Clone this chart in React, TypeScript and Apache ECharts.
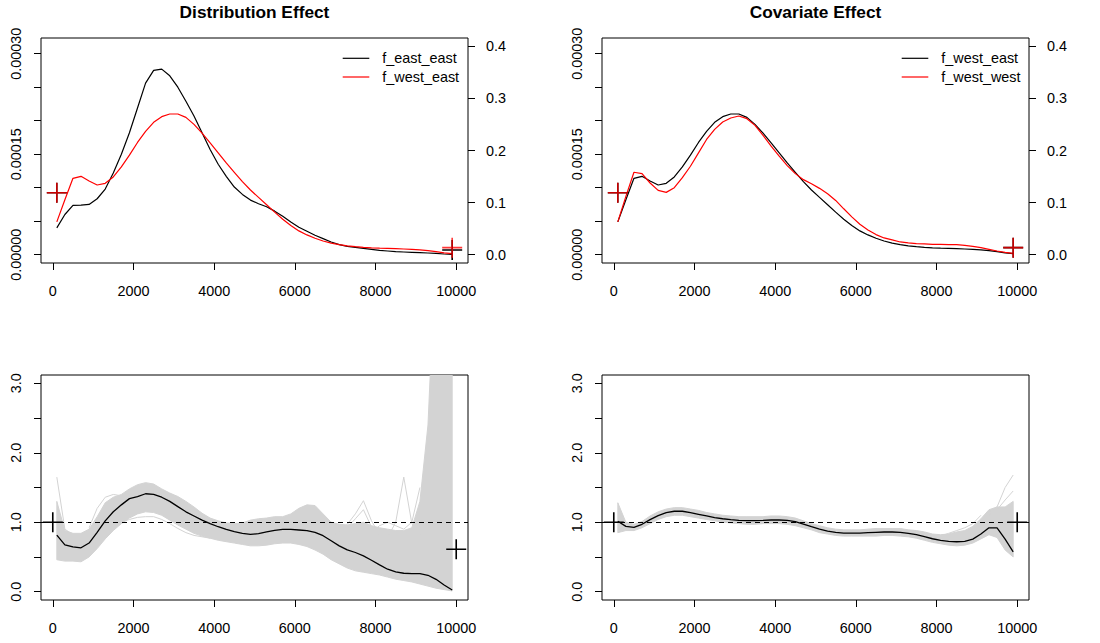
import React, { useEffect, useRef } from "react";
import * as echarts from "echarts";

// ---------- data ----------
const xs = [100, 300, 500, 700, 900, 1100, 1300, 1500, 1700, 1900, 2100, 2300, 2500, 2700, 2900, 3100, 3300, 3500, 3700, 3900, 4100, 4300, 4500, 4700, 4900, 5100, 5300, 5500, 5700, 5900, 6100, 6300, 6500, 6700, 6900, 7100, 7300, 7500, 7700, 7900, 8100, 8300, 8500, 8700, 8900, 9100, 9300, 9500, 9700, 9900];

const fEastEast = [4.0e-5, 6.0e-5, 7.35e-5, 7.4e-5, 7.5e-5, 8.35e-5, 9.8e-5, 12.2e-5, 15.0e-5, 18.2e-5, 21.9e-5, 25.6e-5, 27.5e-5, 27.7e-5, 26.7e-5, 25.0e-5, 22.9e-5, 20.7e-5, 18.2e-5, 15.7e-5, 13.5e-5, 11.7e-5, 10.1e-5, 9.0e-5, 8.15e-5, 7.6e-5, 7.15e-5, 6.5e-5, 5.75e-5, 4.87e-5, 4.1e-5, 3.5e-5, 2.9e-5, 2.4e-5, 1.9e-5, 1.5e-5, 1.25e-5, 1.1e-5, 0.95e-5, 0.8e-5, 0.65e-5, 0.55e-5, 0.45e-5, 0.4e-5, 0.35e-5, 0.3e-5, 0.25e-5, 0.2e-5, 0.1e-5, 0.05e-5];
const fWestEast = [4.9e-5, 8.2e-5, 11.4e-5, 11.7e-5, 11.0e-5, 10.4e-5, 10.65e-5, 11.6e-5, 13.1e-5, 14.85e-5, 16.75e-5, 18.4e-5, 19.75e-5, 20.6e-5, 21.0e-5, 21.0e-5, 20.5e-5, 19.45e-5, 18.15e-5, 16.7e-5, 15.2e-5, 13.7e-5, 12.3e-5, 10.9e-5, 9.65e-5, 8.55e-5, 7.45e-5, 6.35e-5, 5.3e-5, 4.35e-5, 3.55e-5, 2.95e-5, 2.45e-5, 2.05e-5, 1.72e-5, 1.5e-5, 1.32e-5, 1.2e-5, 1.1e-5, 1.02e-5, 0.97e-5, 0.95e-5, 0.9e-5, 0.85e-5, 0.8e-5, 0.72e-5, 0.62e-5, 0.47e-5, 0.27e-5, 0.15e-5];
const fWestWest = [4.9e-5, 8.7e-5, 12.3e-5, 12.1e-5, 10.7e-5, 9.6e-5, 9.3e-5, 10.0e-5, 11.5e-5, 13.2e-5, 15.2e-5, 17.2e-5, 18.7e-5, 19.8e-5, 20.4e-5, 20.7e-5, 20.3e-5, 19.3e-5, 17.8e-5, 16.2e-5, 14.7e-5, 13.3e-5, 12.1e-5, 11.2e-5, 10.6e-5, 9.9e-5, 9.1e-5, 8.1e-5, 6.85e-5, 5.65e-5, 4.55e-5, 3.7e-5, 3.0e-5, 2.5e-5, 2.2e-5, 1.9e-5, 1.75e-5, 1.65e-5, 1.6e-5, 1.55e-5, 1.55e-5, 1.5e-5, 1.5e-5, 1.4e-5, 1.25e-5, 1.05e-5, 0.8e-5, 0.55e-5, 0.35e-5, 0.2e-5];

// point masses (right axis)
const massX = [100, 9900];
const massEastEast = [0.119, 0.009];
const massWestEast = [0.119, 0.0135];
const massWestWest = [0.119, 0.0135];

// ratio curves
const ratioDist = [0.815, 0.675, 0.646, 0.632, 0.70, 0.854, 1.02, 1.15, 1.25, 1.34, 1.37, 1.41, 1.40, 1.36, 1.30, 1.225, 1.15, 1.09, 1.03, 0.98, 0.935, 0.897, 0.863, 0.84, 0.825, 0.835, 0.86, 0.883, 0.897, 0.897, 0.888, 0.878, 0.854, 0.806, 0.733, 0.66, 0.603, 0.564, 0.516, 0.453, 0.386, 0.323, 0.285, 0.265, 0.26, 0.26, 0.236, 0.178, 0.096, 0.024];
const ratioCov = [1.013, 0.94, 0.926, 0.97, 1.037, 1.095, 1.138, 1.158, 1.158, 1.138, 1.114, 1.09, 1.066, 1.05, 1.037, 1.027, 1.023, 1.023, 1.027, 1.032, 1.032, 1.027, 1.008, 0.974, 0.936, 0.902, 0.873, 0.854, 0.844, 0.844, 0.844, 0.849, 0.854, 0.859, 0.859, 0.854, 0.839, 0.82, 0.791, 0.762, 0.738, 0.724, 0.719, 0.724, 0.757, 0.83, 0.92, 0.92, 0.757, 0.574];

// bootstrap band (dense core of grey replicate curves)
const lowerDist = [0.46, 0.44, 0.44, 0.43, 0.50, 0.62, 0.76, 0.88, 0.98, 1.06, 1.12, 1.15, 1.14, 1.10, 1.03, 0.96, 0.90, 0.84, 0.80, 0.77, 0.74, 0.72, 0.70, 0.68, 0.66, 0.66, 0.67, 0.69, 0.70, 0.70, 0.68, 0.65, 0.60, 0.54, 0.46, 0.40, 0.34, 0.30, 0.28, 0.26, 0.24, 0.21, 0.18, 0.16, 0.14, 0.11, 0.08, 0.05, 0.03, 0.01];
const upperDist = [1.30, 0.88, 0.84, 0.84, 0.90, 1.08, 1.28, 1.36, 1.40, 1.48, 1.54, 1.57, 1.55, 1.48, 1.42, 1.37, 1.30, 1.22, 1.13, 1.06, 1.02, 0.99, 0.98, 0.99, 1.03, 1.05, 1.06, 1.08, 1.08, 1.12, 1.20, 1.25, 1.24, 1.12, 1.00, 0.97, 0.96, 0.98, 1.00, 0.95, 0.92, 0.90, 0.88, 0.88, 0.92, 1.30, 2.40, 5.00, 5.00, 4.00];
const lowerCov = [0.85, 0.88, 0.88, 0.92, 0.98, 1.04, 1.08, 1.10, 1.10, 1.08, 1.06, 1.04, 1.02, 1.00, 0.99, 0.98, 0.97, 0.97, 0.98, 0.98, 0.98, 0.97, 0.95, 0.92, 0.89, 0.85, 0.83, 0.81, 0.80, 0.80, 0.80, 0.80, 0.80, 0.81, 0.81, 0.80, 0.79, 0.77, 0.74, 0.71, 0.69, 0.67, 0.66, 0.67, 0.70, 0.76, 0.82, 0.78, 0.60, 0.50];
const upperCov = [1.28, 1.00, 0.97, 1.01, 1.09, 1.15, 1.19, 1.21, 1.21, 1.19, 1.17, 1.14, 1.12, 1.10, 1.09, 1.08, 1.08, 1.08, 1.08, 1.09, 1.09, 1.08, 1.06, 1.02, 0.98, 0.95, 0.92, 0.90, 0.89, 0.89, 0.89, 0.90, 0.91, 0.91, 0.91, 0.91, 0.89, 0.88, 0.86, 0.83, 0.82, 0.83, 0.86, 0.88, 0.94, 1.05, 1.18, 1.22, 1.22, 1.30];

// individual outlying replicate curves [x, ratio]
const outliersDist = [
  [[100, 1.65], [300, 0.90], [500, 0.82]],
  [[700, 0.48], [900, 0.58], [1100, 0.70], [1300, 0.84], [1500, 0.94], [1700, 1.0], [1900, 1.04], [2100, 1.07], [2300, 1.08], [2500, 1.08], [2700, 1.04], [2900, 0.98], [3100, 0.91], [3300, 0.85], [3500, 0.81], [3700, 0.79], [3900, 0.77]],
  [[900, 0.92], [1100, 1.20], [1300, 1.36], [1500, 1.40], [1700, 1.38], [1900, 1.47]],
  [[6900, 0.80], [7100, 0.86], [7300, 0.97], [7500, 1.12], [7700, 1.31], [7900, 1.02], [8100, 0.82]],
  [[7100, 0.80], [7300, 0.92], [7500, 1.05], [7700, 1.18], [7900, 0.93], [8100, 0.80]],
  [[8300, 0.78], [8500, 1.00], [8700, 1.65], [8900, 0.98], [9100, 0.82]],
  [[7900, 0.85], [8100, 0.95], [8300, 1.0], [8500, 0.95], [8700, 0.9], [8900, 1.0], [9100, 1.5]],
];
const outliersCov = [
  [[9100, 0.95], [9300, 1.15], [9500, 1.22], [9700, 1.50], [9900, 1.68]],
  [[9300, 1.10], [9500, 1.18], [9700, 1.32], [9900, 1.45]],
  [[8100, 0.80], [8300, 0.84], [8500, 0.88], [8700, 0.92], [8900, 0.98], [9100, 1.1]],
];

// end-point markers of the ratio panels
const ratioMarkX = [0, 10000];
const distMark = [1.0, 0.61];
const covMark = [1.0, 1.0];

// ticks
const xTicks = [0, 2000, 4000, 6000, 8000, 10000];
const densTicks = [0, 0.00005, 0.0001, 0.00015, 0.0002, 0.00025, 0.0003];
const densLabels = [0, 0.00015, 0.0003];
const probTicks = [0, 0.1, 0.2, 0.3, 0.4];
const ratioTicks = [0, 0.5, 1, 1.5, 2, 2.5, 3];
const ratioLabels = [0, 1, 2, 3];

// ---------- styling ----------
const FONT = '"Liberation Sans", Arial, Helvetica, sans-serif';
const FS = 14.4;
const GREY = "#D3D3D3";
const PLUS = "path://M0,9.2L20,9.2L20,10.8L0,10.8Z M9.2,0L10.8,0L10.8,20L9.2,20Z";

const pairs = (xv: number[], yv: number[]) => xv.map((x, i) => [x, yv[i]]);

const boxes = [
  { left: 41, top: 38 },
  { left: 602, top: 38 },
  { left: 41, top: 375 },
  { left: 602, top: 375 },
];

const lab = { color: "#000", fontSize: FS, fontFamily: FONT };
const tick = (vals: number[]) => ({ show: true, length: 7, inside: false, customValues: vals, lineStyle: { color: "#000", width: 1 } });

function buildOption() {
  const grid = boxes.map((b) => ({
    left: b.left, top: b.top, width: 427, height: 225,
    show: true, borderColor: "#000", borderWidth: 1, backgroundColor: "transparent", containLabel: false,
  }));

  const xAxis = boxes.map((_, i) => ({
    type: "value", gridIndex: i, min: -292, max: 10292,
    axisLine: { show: false, onZero: false },
    axisTick: tick(xTicks),
    axisLabel: { ...lab, customValues: xTicks, margin: 21, formatter: (v: number) => String(v) },
    splitLine: { show: false },
  }));

  const densAxis = (g: number) => ({
    type: "value", gridIndex: g, position: "left", min: -0.0000124, max: 0.0003234,
    axisLine: { show: false, onZero: false },
    axisTick: tick(densTicks),
    axisLabel: { ...lab, customValues: densLabels, rotate: 90, margin: 18, formatter: (v: number) => v.toFixed(5) },
    splitLine: { show: false },
  });
  const probAxis = (g: number) => ({
    type: "value", gridIndex: g, position: "right", min: -0.016, max: 0.416,
    axisLine: { show: false, onZero: false },
    axisTick: tick(probTicks),
    axisLabel: { ...lab, customValues: probTicks, margin: 18, formatter: (v: number) => v.toFixed(1) },
    splitLine: { show: false },
  });
  const ratioAxis = (g: number) => ({
    type: "value", gridIndex: g, position: "left", min: -0.12, max: 3.12,
    axisLine: { show: false, onZero: false },
    axisTick: tick(ratioTicks),
    axisLabel: { ...lab, customValues: ratioLabels, rotate: 90, margin: 18, formatter: (v: number) => v.toFixed(1) },
    splitLine: { show: false },
  });

  const yAxis = [densAxis(0), probAxis(0), densAxis(1), probAxis(1), ratioAxis(2), ratioAxis(3)];

  const line = (name: string, xi: number, yi: number, data: any[], color: string, width = 1.2, z = 3) => ({
    name, type: "line", xAxisIndex: xi, yAxisIndex: yi, data, symbol: "none", showSymbol: false,
    lineStyle: { color, width }, silent: true, z,
  });
  const marks = (name: string, xi: number, yi: number, data: any[], color: string, opacity = 1) => ({
    name, type: "scatter", xAxisIndex: xi, yAxisIndex: yi, data, symbol: PLUS, symbolSize: 20,
    itemStyle: { color, opacity }, silent: true, z: 6,
  });
  // band between lower and upper envelope, drawn as one polygon through the axes' scales
  const band = (name: string, xi: number, yi: number, lo: number[], hi: number[]) => ({
    name, type: "custom", xAxisIndex: xi, yAxisIndex: yi, clip: true, silent: true, z: 2,
    data: xs.map((x, i) => [x, lo[i], hi[i]]),
    renderItem: (params: any, api: any) => {
      if (params.dataIndexInside !== 0) return null;
      const n = params.dataInsideLength;
      const top: number[][] = [];
      const bottom: number[][] = [];
      for (let j = 0; j < n; j++) {
        const x = api.value(0, j);
        bottom.push(api.coord([x, api.value(1, j)]));
        top.push(api.coord([x, api.value(2, j)]));
      }
      const pts = bottom.concat(top.reverse());
      const cs = params.coordSys;
      return {
        type: "group",
        clipPath: { type: "rect", shape: { x: cs.x, y: cs.y, width: cs.width, height: cs.height } },
        children: [
          { type: "polygon", shape: { points: pts }, style: { fill: GREY, stroke: GREY, lineWidth: 1 } },
        ],
      };
    },
  });
  const dashed = {
    silent: true, symbol: ["none", "none"], label: { show: false },
    lineStyle: { color: "#000", type: [5, 4], width: 1.2 },
    data: [{ yAxis: 1 }],
  };

  const series: any[] = [
    // top-left: Distribution effect
    line("f_east_east", 0, 0, pairs(xs, fEastEast), "#000"),
    line("f_west_east", 0, 0, pairs(xs, fWestEast), "#FF0000"),
    marks("f_east_east mass", 0, 1, pairs(massX, massEastEast), "#000"),
    marks("f_west_east mass", 0, 1, pairs(massX, massWestEast), "#FF0000", 0.78),
    // top-right: Covariate effect
    line("f_west_east", 1, 2, pairs(xs, fWestEast), "#000"),
    line("f_west_west", 1, 2, pairs(xs, fWestWest), "#FF0000"),
    marks("f_west_east mass", 1, 3, pairs(massX, massWestEast), "#000"),
    marks("f_west_west mass", 1, 3, pairs(massX, massWestWest), "#FF0000", 0.78),
    // bottom-left
    band("bootstrap band dist", 2, 4, lowerDist, upperDist),
    ...outliersDist.map((d, i) => line("replicate " + (i + 1), 2, 4, d, GREY, 1, 2)),
    { ...line("ratio distribution", 2, 4, pairs(xs, ratioDist), "#000", 1.3, 4), markLine: dashed },
    marks("ratio distribution ends", 2, 4, pairs(ratioMarkX, distMark), "#000"),
    // bottom-right
    band("bootstrap band cov", 3, 5, lowerCov, upperCov),
    ...outliersCov.map((d, i) => line("replicate cov " + (i + 1), 3, 5, d, GREY, 1, 2)),
    { ...line("ratio covariate", 3, 5, pairs(xs, ratioCov), "#000", 1.3, 4), markLine: dashed },
    marks("ratio covariate ends", 3, 5, pairs(ratioMarkX, covMark), "#000"),
  ];

  const legendItem = (x1: number, y: number, color: string, text: string) => [
    { type: "line", shape: { x1, y1: y, x2: x1 + 26.6, y2: y }, style: { stroke: color, lineWidth: 1.2 }, silent: true },
    { type: "text", x: x1 + 39.6, y, style: { text, fill: "#000", fontSize: FS, fontFamily: FONT, align: "left", verticalAlign: "middle" }, silent: true },
  ];

  const graphic = [
    ...legendItem(342.7, 58.3, "#000", "f_east_east"),
    ...legendItem(342.7, 77, "#FF0000", "f_west_east"),
    ...legendItem(901.7, 58.3, "#000", "f_west_east"),
    ...legendItem(901.7, 77, "#FF0000", "f_west_west"),
  ];

  const title = [
    { text: "Distribution Effect", left: 254.5, top: 3, textAlign: "center", padding: 0, textStyle: { fontSize: 17.3, fontWeight: "bold", fontFamily: FONT, color: "#000" } },
    { text: "Covariate Effect", left: 815.5, top: 3, textAlign: "center", padding: 0, textStyle: { fontSize: 17.3, fontWeight: "bold", fontFamily: FONT, color: "#000" } },
  ];

  return {
    animation: false,
    backgroundColor: "#fff",
    title,
    grid,
    xAxis,
    yAxis,
    series,
    graphic,
  };
}

export default function App() {
  const ref = useRef<HTMLDivElement>(null);
  useEffect(() => {
    document.body.style.margin = "0";
    const chart = echarts.init(ref.current as HTMLDivElement, null, { renderer: "svg" });
    chart.setOption(buildOption() as any);
    return () => chart.dispose();
  }, []);
  return <div ref={ref} style={{ width: 1100, height: 643 }} />;
}
